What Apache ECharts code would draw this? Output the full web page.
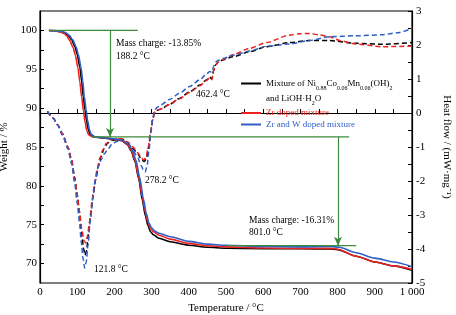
<!DOCTYPE html>
<html>
<head>
<meta charset="utf-8">
<script src="https://cdn.jsdelivr.net/npm/echarts@6/dist/echarts.min.js"></script>
<style>
  html, body { margin: 0; padding: 0; background: #fff; }
  #chart { width: 456px; height: 315px; }
</style>
</head>
<body>
<div id="chart"></div>
<script>
// TG curves (weight %, left axis) as [temperature, value]
const tgBlack = [[24,100],[40,99.95],[55,99.85],[65,99.7],[75,99.4],[85,98.8],[94,97.9],[100,96.9],[107,95.3],[112,93.5],[116,91.5],[121,89.8],[125,88.4],[130,87.2],[135,86.6],[145,86.3],[170,86.15],[200,86.0],[220,85.8],[235,85.3],[245,84.5],[255,83.2],[265,81.0],[275,78.2],[283,76.2],[290,74.9],[297,74.1],[305,73.7],[320,73.25],[350,72.8],[400,72.35],[450,72.1],[500,71.98],[600,71.92],[700,71.9],[780,71.88],[800,71.8],[850,70.95],[900,70.2],[950,69.7],[1000,69.15]];
const tgRed = [[24,100],[40,99.95],[55,99.8],[65,99.6],[72,99.3],[80,98.7],[89,97.8],[95,96.8],[102,95.2],[107,93.4],[112,91.4],[117,89.6],[121,88.2],[126,87.1],[131,86.55],[141,86.3],[170,86.2],[200,86.05],[220,85.85],[235,85.35],[245,84.6],[255,83.3],[265,81.2],[275,78.6],[283,76.6],[290,75.3],[297,74.5],[305,74.1],[320,73.65],[350,73.15],[400,72.6],[450,72.3],[500,72.15],[600,72.0],[700,71.95],[780,71.95],[800,71.85],[850,70.95],[900,70.2],[950,69.7],[1000,69.25]];
const tgBlue = [[24,100],[40,99.97],[55,99.9],[68,99.75],[78,99.4],[88,98.8],[97,97.9],[103,96.9],[110,95.3],[115,93.5],[119,91.5],[124,89.8],[128,88.4],[133,87.2],[138,86.6],[148,86.3],[170,86.2],[200,86.05],[220,85.9],[238,85.4],[248,84.6],[258,83.3],[268,81.1],[278,78.3],[286,76.4],[293,75.2],[300,74.6],[308,74.2],[320,73.9],[350,73.45],[400,72.85],[450,72.5],[500,72.35],[600,72.2],[700,72.15],[780,72.2],[805,72.1],[850,71.4],[900,70.7],[950,70.2],[1000,69.6]];

// DSC curves (heat flow, right axis)
const dscBlack = [[20,0.05],[35,-0.15],[48,-0.35],[60,-0.6],[75,-1.0],[85,-1.38],[93,-1.88],[100,-2.4],[106,-2.9],[112,-3.55],[117,-3.98],[121,-4.18],[125,-4.05],[130,-3.6],[136,-3.0],[143,-2.4],[150,-1.95],[157,-1.55],[164,-1.29],[172,-1.05],[182,-0.88],[195,-0.8],[210,-0.77],[222,-0.78],[236,-0.89],[250,-1.05],[263,-1.2],[272,-1.35],[280,-1.43],[286,-1.35],[292,-1.0],[298,-0.55],[303,-0.2],[308,0.02],[315,0.08],[325,0.12],[348,0.25],[375,0.43],[402,0.62],[430,0.82],[447,0.97],[456,1.06],[462,1.0],[467,1.25],[472,1.42],[480,1.5],[491,1.56],[520,1.66],[563,1.8],[608,1.95],[670,2.07],[724,2.13],[777,2.13],[848,2.05],[920,2.02],[1000,2.07]];
const dscRed = [[20,0.05],[35,-0.15],[48,-0.35],[60,-0.6],[75,-1.0],[85,-1.4],[93,-1.9],[100,-2.4],[106,-2.9],[112,-3.4],[118,-3.75],[123,-3.82],[128,-3.6],[133,-3.2],[140,-2.6],[147,-2.05],[153,-1.7],[160,-1.35],[168,-1.1],[178,-0.9],[190,-0.8],[205,-0.75],[220,-0.76],[236,-0.85],[250,-1.0],[263,-1.17],[272,-1.32],[279,-1.38],[285,-1.3],[291,-1.0],[297,-0.55],[303,-0.2],[308,0.02],[315,0.08],[325,0.12],[348,0.25],[375,0.42],[402,0.6],[430,0.8],[447,0.95],[456,1.04],[462,0.98],[467,1.25],[472,1.42],[480,1.5],[491,1.57],[520,1.72],[563,1.9],[608,2.07],[670,2.29],[700,2.33],[724,2.34],[750,2.3],[777,2.24],[810,2.12],[848,2.03],[920,1.95],[1000,1.97]];
const dscBlue = [[20,0.05],[35,-0.15],[48,-0.37],[60,-0.65],[75,-1.05],[85,-1.5],[93,-2.05],[100,-2.65],[106,-3.2],[111,-3.8],[116,-4.3],[120,-4.56],[124,-4.4],[129,-3.9],[135,-3.2],[142,-2.5],[149,-1.95],[156,-1.6],[164,-1.38],[173,-1.2],[182,-1.07],[195,-0.9],[210,-0.82],[222,-0.82],[236,-0.92],[250,-1.1],[263,-1.32],[272,-1.55],[279,-1.7],[283,-1.73],[288,-1.55],[293,-1.1],[298,-0.55],[303,-0.15],[308,0.08],[315,0.17],[325,0.24],[348,0.4],[375,0.58],[402,0.78],[430,0.98],[447,1.14],[456,1.22],[462,1.2],[467,1.38],[472,1.5],[480,1.55],[491,1.6],[520,1.7],[563,1.82],[608,1.96],[670,2.03],[724,2.13],[777,2.24],[848,2.27],[920,2.3],[960,2.36],[1000,2.49]];

// green guide lines (weight %, left axis)
const guideTop = [[24,100],[263,100]];
const guideMid = [[140,86.3],[831,86.3]];
const guideLow = [[500,72.3],[850,72.3]];
const arrowFirst = [[188.2,100],[188.2,86.3]];
const arrowSecond = [[801,86.3],[801,72.3]];

const weightLabels = [70,75,80,85,90,95,100];
const weightTicks = [70,72.5,75,77.5,80,82.5,85,87.5,90,92.5,95,97.5,100];

const names = ['Mixture', 'Zr doped mixture', 'Zr and W doped mixture'];
const BLACK = '#000000', RED = '#f02020', BLUE = '#2f5fc4', GREEN = '#3d8b3d';
const FONT = '"Liberation Serif", "Times New Roman", serif';

let chart = echarts.init(document.getElementById('chart'));

function tg(name, data, color) {
    return {
        name: name, type: 'line', yAxisIndex: 0, data: data,
        showSymbol: false, smooth: 0.25, smoothMonotone: 'x',
        lineStyle: {color: color, width: 1.6}, itemStyle: {color: color}, z: 3
    };
}

function dsc(name, data, color) {
    return {
        name: name, type: 'line', yAxisIndex: 1, data: data,
        showSymbol: false, smooth: 0.25, smoothMonotone: 'x',
        lineStyle: {color: color, width: 1.5, type: [5, 3]}, itemStyle: {color: color}, z: 2
    };
}

function guide(data, arrows) {
    let s = {
        type: 'line', yAxisIndex: 0, data: data, showSymbol: false, silent: true,
        lineStyle: {color: GREEN, width: 1.2}, z: 4
    };
    if (arrows) {
        s.markLine = {
            silent: true, symbol: ['none', 'arrow'], symbolSize: [6, 9],
            label: {show: false},
            lineStyle: {color: GREEN, width: 1.2, type: 'solid'},
            data: arrows.map(a => [{coord: a[0]}, {coord: a[1]}])
        };
    }
    return s;
}

function txt(x, y, s) {
    return {type: 'text', left: x, top: y, style: {text: s, font: '9.5px ' + FONT, fill: '#000'}};
}

let option = {
    animation: false,
    textStyle: {fontFamily: FONT},
    grid: {
        left: 40, right: 44, top: 11, bottom: 32, outerBoundsMode: 'none',
        show: true, borderColor: '#000', borderWidth: 1.2
    },
    legend: {
        orient: 'vertical', left: 241, top: 79, padding: 0, itemGap: 2.5,
        itemWidth: 20, itemHeight: 2, icon: 'rect',
        textStyle: {
            fontFamily: FONT, fontSize: 9,
            rich: {
                t: {fontFamily: FONT, fontSize: 9, color: BLACK, lineHeight: 15},
                s: {fontFamily: FONT, fontSize: 6, color: BLACK, lineHeight: 15, verticalAlign: 'bottom', padding: [4, 0, 0, 0]}
            }
        },
        data: [
            {name: names[0], itemStyle: {color: BLACK}, textStyle: {color: BLACK, padding: [15, 0, 0, 0]}},
            {name: names[1], itemStyle: {color: RED}, textStyle: {color: RED, lineHeight: 7}},
            {name: names[2], itemStyle: {color: BLUE}, textStyle: {color: BLUE, lineHeight: 7}}
        ],
        formatter: function (n) {
            if (n === names[0]) {
                return '{t|Mixture of Ni}{s|0.88}{t|Co}{s|0.06}{t|Mn}{s|0.06}{t|(OH)}{s|2}\n{t|and LiOH·H}{s|2}{t|O}';
            }
            return n;
        }
    },
    xAxis: {
        type: 'value', min: 0, max: 1000, interval: 100,
        name: 'Temperature / °C', nameLocation: 'middle', nameGap: 20,
        nameTextStyle: {fontFamily: FONT, fontSize: 11, color: '#000'},
        axisLine: {lineStyle: {color: '#000', width: 1.2}},
        axisTick: {inside: true, length: 4, lineStyle: {color: '#000'}},
        minorTick: {show: true, splitNumber: 2, length: 4, lineStyle: {color: '#000'}},
        splitLine: {show: false},
        axisLabel: {color: '#000', fontSize: 11, margin: 4, fontFamily: FONT,
            formatter: v => v === 1000 ? '1 000' : String(v)}
    },
    yAxis: [
        {
            type: 'value', min: 67.5, max: 102.5, position: 'left',
            name: 'Weight / %', nameLocation: 'middle', nameGap: 21, nameRotate: 90,
            nameTextStyle: {fontFamily: FONT, fontSize: 11, color: '#000'},
            axisLine: {show: true, lineStyle: {color: '#000', width: 1.2}},
            axisTick: {show: true, inside: true, length: 4, customValues: weightTicks, lineStyle: {color: '#000'}},
            splitLine: {show: false},
            axisLabel: {color: '#000', fontSize: 11, margin: 3, fontFamily: FONT, customValues: weightLabels}
        },
        {
            type: 'value', min: -5, max: 3, interval: 1, position: 'right',
            name: 'Heat flow / (mW·mg⁻¹)', nameLocation: 'middle', nameGap: 29, nameRotate: -90,
            nameTextStyle: {fontFamily: FONT, fontSize: 11, color: '#000'},
            axisLine: {show: true, lineStyle: {color: '#000', width: 1.2}},
            axisTick: {show: true, inside: true, length: 4, lineStyle: {color: '#000'}},
            minorTick: {show: true, splitNumber: 2, length: 4, lineStyle: {color: '#000'}},
            splitLine: {show: false},
            axisLabel: {color: '#000', fontSize: 11, margin: 4, fontFamily: FONT}
        }
    ],
    graphic: [
        txt(116, 38, 'Mass charge: -13.85%'),
        txt(116, 51, '188.2 °C'),
        txt(196, 89, '462.4 °C'),
        txt(145, 175, '278.2 °C'),
        txt(94, 264, '121.8 °C'),
        txt(249, 215, 'Mass charge: -16.31%'),
        txt(249, 227, '801.0 °C')
    ],
    series: [
        dsc(names[0], dscBlack, BLACK),
        dsc(names[1], dscRed, RED),
        dsc(names[2], dscBlue, BLUE),
        tg(names[0], tgBlack, BLACK),
        tg(names[1], tgRed, RED),
        tg(names[2], tgBlue, BLUE),
        guide(guideTop, [arrowFirst, arrowSecond]),
        guide(guideMid),
        guide(guideLow)
    ]
};

chart.setOption(option);
</script>
</body>
</html>
